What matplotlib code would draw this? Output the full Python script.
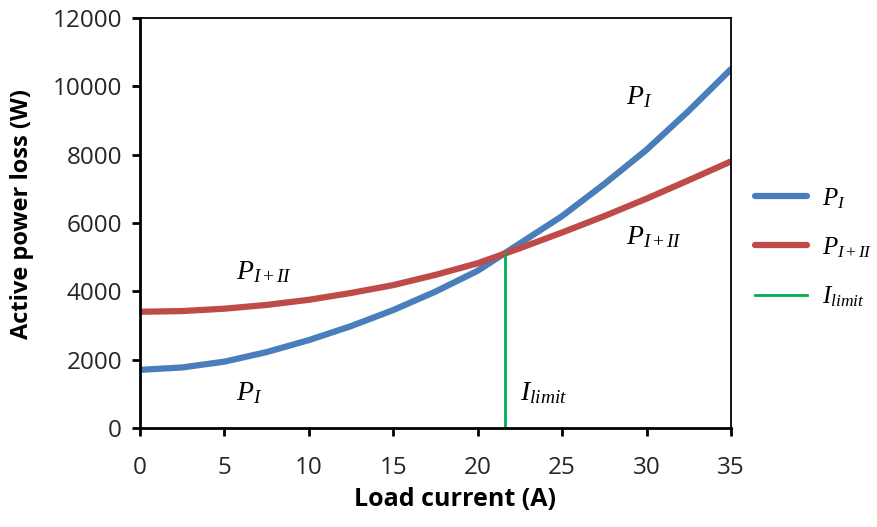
import matplotlib.pyplot as plt

plt.rcParams['mathtext.fontset'] = 'custom'
plt.rcParams['mathtext.rm'] = 'Liberation Serif'
plt.rcParams['mathtext.it'] = 'Liberation Serif:italic'

current = [0, 2.5, 5, 7.5, 10, 12.5, 15, 17.5, 20, 22.5, 25, 27.5, 30, 32.5, 35]
p_one = [1700, 1770, 1940, 2220, 2570, 2980, 3450, 3990, 4600, 5400, 6200, 7140, 8140, 9280, 10500]
p_both = [3400, 3420, 3490, 3600, 3750, 3950, 4180, 4480, 4820, 5260, 5720, 6200, 6710, 7250, 7800]
i_limit = 21.6
p_limit = 5090

blue = '#4a7ebb'
red = '#be4b48'
green = '#00b050'

fig = plt.figure(figsize=(8.78, 5.27), dpi=100)
ax = fig.add_axes([0.1595, 0.188, 0.673, 0.778])

ax.plot(current, p_one, color=blue, lw=4.5, solid_capstyle='round', label=r'$P_I$')
ax.plot(current, p_both, color=red, lw=4.5, solid_capstyle='round', label=r'$P_{I+II}$')
ax.plot([i_limit, i_limit], [0, p_limit], color=green, lw=2, label=r'$I_{limit}$')

ax.set_xlim(0, 35)
ax.set_ylim(0, 12000)
ax.set_xticks(range(0, 36, 5))
ax.set_yticks(range(0, 12001, 2000))

for s in ['left', 'bottom']:
    ax.spines[s].set_linewidth(2)
for s in ['top', 'right']:
    ax.spines[s].set_linewidth(1.3)
ax.tick_params(direction='out', length=6, width=2, labelsize=17.5, labelcolor='#262626')
ax.tick_params(axis='x', pad=14)
ax.tick_params(axis='y', pad=7)
for lab in ax.get_xticklabels() + ax.get_yticklabels():
    lab.set_family('Open Sans')

ax.set_xlabel('Load current (A)', fontsize=18, fontweight='bold', family='Open Sans')
ax.set_ylabel('Active power loss (W)', fontsize=17, fontweight='bold', family='Open Sans')
ax.xaxis.set_label_coords(0.533, -0.145)
ax.yaxis.set_label_coords(-0.18, 0.522)

fs = 20
ax.text(5.7, 4600, r'$P_{I+II}$', fontsize=fs, ha='left', va='center')
ax.text(5.7, 1050, r'$P_I$', fontsize=fs, ha='left', va='center')
ax.text(22.5, 1050, r'$I_{limit}$', fontsize=fs, ha='left', va='center')
ax.text(28.8, 9700, r'$P_I$', fontsize=fs, ha='left', va='center')
ax.text(28.8, 5600, r'$P_{I+II}$', fontsize=fs, ha='left', va='center')

leg = ax.legend(loc='center left', bbox_to_anchor=(1.04, 0.44), frameon=False,
                borderpad=0, borderaxespad=0,
                fontsize=18, handlelength=2.1, labelspacing=0.98, handletextpad=0.6)

fig.savefig('out.png', dpi=100)
